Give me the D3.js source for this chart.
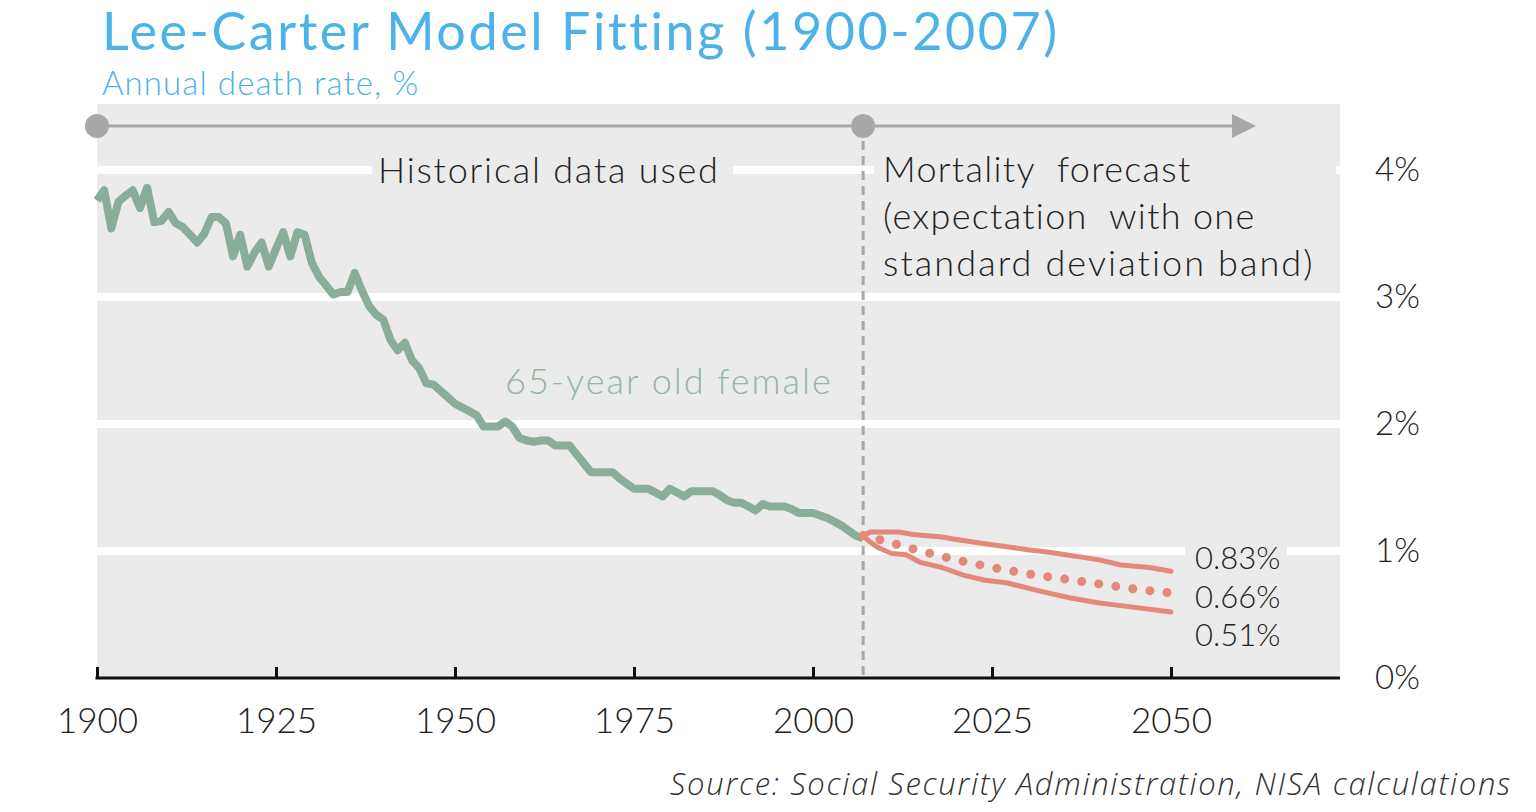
<!DOCTYPE html>
<html>
<head>
<meta charset="utf-8">
<script src="https://cdn.jsdelivr.net/npm/d3@7"></script>
<style>
  body { margin: 0; background: #fff; }
  svg { display: block; font-family: Lato, sans-serif; font-variant-ligatures: none; }
</style>
</head>
<body>
<div id="chart"></div>
<script>
// historical death rate, 65-year old female (%)
const histYears = d3.range(1900, 2008);
const histRate = [
  3.76, 3.84, 3.54, 3.75, 3.80, 3.84, 3.70, 3.86, 3.59, 3.60,
  3.67, 3.58, 3.55, 3.49, 3.43, 3.50, 3.63, 3.63, 3.58, 3.32,
  3.49, 3.24, 3.35, 3.43, 3.24, 3.38, 3.51, 3.32, 3.51, 3.49,
  3.27, 3.16, 3.09, 3.02, 3.04, 3.04, 3.19, 3.05, 2.93, 2.86,
  2.82, 2.66, 2.58, 2.64, 2.50, 2.44, 2.32, 2.31, 2.26, 2.21,
  2.16, 2.13, 2.10, 2.07, 1.98, 1.98, 1.98, 2.02, 1.98, 1.89,
  1.87, 1.86, 1.87, 1.87, 1.83, 1.83, 1.83, 1.76, 1.69, 1.62,
  1.62, 1.62, 1.62, 1.57, 1.53, 1.49, 1.49, 1.49, 1.46, 1.43,
  1.49, 1.46, 1.43, 1.47, 1.47, 1.47, 1.47, 1.44, 1.40, 1.38,
  1.38, 1.35, 1.32, 1.37, 1.35, 1.35, 1.35, 1.33, 1.30, 1.30,
  1.30, 1.28, 1.26, 1.23, 1.20, 1.16, 1.12, 1.10
];

// forecast band
const upperYears = [2007, 2008, 2012, 2014, 2018, 2020, 2025, 2030, 2033, 2040, 2043, 2047, 2050];
const upperRate  = [1.12, 1.15, 1.15, 1.13, 1.11, 1.09, 1.05, 1.01, 0.99, 0.93, 0.89, 0.87, 0.84];
const lowerYears = [2007, 2008, 2009, 2011, 2013, 2015, 2018, 2021, 2024, 2027, 2032, 2036, 2040, 2043, 2050];
const lowerRate  = [1.12, 1.07, 1.03, 0.98, 0.97, 0.91, 0.87, 0.81, 0.77, 0.75, 0.68, 0.63, 0.59, 0.57, 0.52];
const midYears = [2007, 2010, 2015, 2020, 2025, 2030, 2035, 2040, 2045, 2050];
const midRate  = [1.12, 1.08, 1.00, 0.93, 0.87, 0.82, 0.78, 0.74, 0.70, 0.67];

const xTicks = [1900, 1925, 1950, 1975, 2000, 2025, 2050];
const yTicks = [0, 1, 2, 3, 4];
const endLabels = ["0.83%", "0.66%", "0.51%"];
const forecastText = ["Mortality  forecast", "(expectation  with one", "standard deviation band)"];
const splitYear = 2007;

const width = 1536, height = 812;
const plotLeft = 97, plotRight = 1340, plotTop = 104, plotBottom = 678;

const svg = d3.select('#chart')
    .append('svg')
    .attr('width', width)
    .attr('height', height);

const x = d3.scaleLinear().domain([1900, 2050]).range([plotLeft, 1171]);
const y = d3.scaleLinear().domain([0, 4]).range([plotBottom, 170]);

const green = '#88ae9a', salmon = '#e4887a', grey = '#a8a8a8';

// title
svg.append('text')
    .attr('x', 102).attr('y', 50)
    .attr('fill', '#4cb2ea')
    .style('font-size', '52px').style('letter-spacing', '2.6px')
    .text('Lee-Carter Model Fitting (1900-2007)');
svg.append('text')
    .attr('x', 102).attr('y', 95)
    .attr('fill', '#4cb2ea')
    .style('font-size', '33px').style('font-weight', 300).style('letter-spacing', '1.1px')
    .text('Annual death rate, %');

// background
svg.append('rect')
    .attr('x', plotLeft).attr('y', plotTop)
    .attr('width', plotRight - plotLeft).attr('height', plotBottom - plotTop)
    .attr('fill', '#ebebeb');

// grid
svg.append('g').selectAll('line')
    .data(yTicks.filter(d => d > 0))
    .join('line')
    .attr('x1', plotLeft).attr('x2', plotRight)
    .attr('y1', d => y(d)).attr('y2', d => y(d))
    .attr('stroke', '#fff').attr('stroke-width', 8);

// boxes behind labels
const boxes = [[372, 148, 361, 44], [874, 145, 462, 146], [1185, 538, 102, 112]];
svg.append('g').selectAll('rect')
    .data(boxes)
    .join('rect')
    .attr('x', d => d[0]).attr('y', d => d[1])
    .attr('width', d => d[2]).attr('height', d => d[3])
    .attr('fill', '#ebebeb');

// divider
svg.append('line')
    .attr('x1', x(splitYear)).attr('x2', x(splitYear))
    .attr('y1', 126).attr('y2', plotBottom)
    .attr('stroke', grey).attr('stroke-width', 3)
    .attr('stroke-dasharray', '9 6');

// timeline arrow
svg.append('line')
    .attr('x1', x(1900)).attr('x2', 1236)
    .attr('y1', 126).attr('y2', 126)
    .attr('stroke', grey).attr('stroke-width', 3);
svg.append('path')
    .attr('d', 'M1232,114 L1256,126 L1232,138 Z')
    .attr('fill', grey);
svg.append('g').selectAll('circle')
    .data([1900, splitYear])
    .join('circle')
    .attr('cx', d => x(d)).attr('cy', 126).attr('r', 12)
    .attr('fill', grey);

// x axis
const xAxis = svg.append('g')
    .attr('transform', `translate(0,${plotBottom})`)
    .call(d3.axisBottom(x).tickValues(xTicks).tickFormat(d3.format('d'))
        .tickSize(-11).tickSizeOuter(0).tickPadding(30))
    .attr('font-family', null).attr('font-size', null);
xAxis.select('.domain').remove();
xAxis.selectAll('.tick line').attr('stroke', '#111').attr('stroke-width', 3);
xAxis.selectAll('.tick text')
    .attr('fill', '#222').style('font-size', '35px').style('font-weight', 300);
svg.append('line')
    .attr('x1', plotLeft - 1.5).attr('x2', plotRight)
    .attr('y1', plotBottom).attr('y2', plotBottom)
    .attr('stroke', '#111').attr('stroke-width', 3);

// y axis
const yAxis = svg.append('g')
    .attr('transform', `translate(${plotRight},0)`)
    .call(d3.axisRight(y).tickValues(yTicks).tickFormat(d => d + '%')
        .tickSize(0).tickPadding(35))
    .attr('font-family', null).attr('font-size', null);
yAxis.select('.domain').remove();
yAxis.selectAll('.tick text')
    .attr('fill', '#222').style('font-size', '33px').style('font-weight', 300);

// lines
const line = d3.line().x(d => x(d[0])).y(d => y(d[1]));

svg.append('path')
    .datum(d3.zip(histYears, histRate))
    .attr('d', line)
    .attr('fill', 'none').attr('stroke', green)
    .attr('stroke-width', 8).attr('stroke-linejoin', 'round');

[[upperYears, upperRate], [lowerYears, lowerRate]].forEach(([yrs, vals]) => {
  svg.append('path')
      .datum(d3.zip(yrs, vals))
      .attr('d', line)
      .attr('fill', 'none').attr('stroke', salmon)
      .attr('stroke-width', 5).attr('stroke-linecap', 'round')
      .attr('stroke-linejoin', 'round');
});

svg.append('path')
    .datum(d3.zip(midYears, midRate))
    .attr('d', line)
    .attr('fill', 'none').attr('stroke', salmon)
    .attr('stroke-width', 9).attr('stroke-linecap', 'round')
    .attr('stroke-dasharray', '0 17.2');

// annotations
const label = svg.append('g').style('font-weight', 300).attr('fill', '#222');
label.append('text').attr('x', 378).attr('y', 183)
    .style('font-size', '36px').style('letter-spacing', '1.8px')
    .text('Historical data used');
label.selectAll('.fc')
    .data(forecastText)
    .join('text')
    .attr('x', 883).attr('y', (d, i) => 182 + i * 47)
    .style('font-size', '36px').style('white-space', 'pre')
    .style('letter-spacing', (d, i) => i === 2 ? '2.1px' : '1.3px')
    .text(d => d);
label.selectAll('.end')
    .data(endLabels)
    .join('text')
    .attr('x', 1195).attr('y', (d, i) => 569 + i * 38.5)
    .style('font-size', '31px')
    .text(d => d);

svg.append('text')
    .attr('x', 505).attr('y', 394)
    .attr('fill', '#93b6a3')
    .style('font-size', '36px').style('font-weight', 300).style('letter-spacing', '2px')
    .text('65-year old female');

svg.append('text')
    .attr('x', 1512).attr('y', 795)
    .attr('text-anchor', 'end')
    .attr('fill', '#333')
    .style('font-family', '"Open Sans", sans-serif')
    .style('font-size', '31px').style('font-style', 'italic').style('font-weight', 300)
    .style('letter-spacing', '1.7px')
    .text('Source: Social Security Administration, NISA calculations');
</script>
</body>
</html>
